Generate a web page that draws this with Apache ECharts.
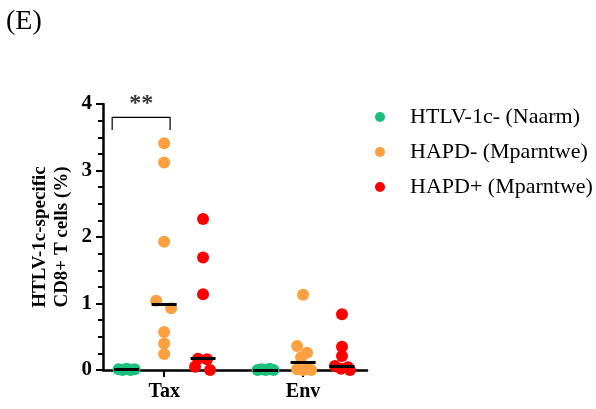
<!DOCTYPE html>
<html>
<head>
<meta charset="utf-8">
<script src="https://cdn.jsdelivr.net/npm/echarts@6/dist/echarts.min.js"></script>
<style>
  html, body { margin: 0; padding: 0; background: #fff; }
  #chart { width: 596px; height: 409px; }
</style>
</head>
<body>
<div id="chart"></div>
<script>
// categories and groups
const categories = ['Tax', 'Env']
const groupNames = ['HTLV-1c- (Naarm)', 'HAPD- (Mparntwe)', 'HAPD+ (Mparntwe)']
const yTicks = [0, 1, 2, 3, 4]

// values (% of CD8+ T cells)
const naarmTax = [0.01, 0, 0.02, 0, 0.01]
const naarmEnv = [0, 0.01, 0, 0.02, 0]
const hapdNegTax = [3.41, 3.12, 1.93, 1.04, 0.93, 0.57, 0.40, 0.24]
const hapdNegEnv = [1.13, 0.36, 0.26, 0.19, 0.03, 0.01, 0, 0]
const hapdPosTax = [2.27, 1.69, 1.14, 0.17, 0.16, 0.05, 0]
const hapdPosEnv = [0.84, 0.35, 0.21, 0.06, 0.04, 0.02, 0]

// sideways spread of overlapping dots (px)
const naarmSpread = [-8, -4, 0, 4, 8]
const hapdNegTaxSpread = [0, 0, 0, -8, 7, 0, 0, 0]
const hapdNegEnvSpread = [0, -6, 4, -2, 5, -6, 0, 8]
const hapdPosTaxSpread = [0, 0, 0, -5, 4, -8, 7]
const hapdPosEnvSpread = [0, 0, 0, -7, 6, -1, 8]

const colors = ['#1bbf7c', '#ffa040', '#ff0000']
const FONT = '"Liberation Serif", "Times New Roman", serif'
const PX = 1.9 / 264 // x data units per pixel
const groupShift = [-0.27, 0, 0.28]
const halfMedian = 12.5 * PX

function median(arr) {
  const s = arr.slice().sort((a, b) => a - b)
  const m = Math.floor(s.length / 2)
  return s.length % 2 ? s[m] : (s[m - 1] + s[m]) / 2
}

function makeSeries(gi, perCat, spreads) {
  const data = []
  const lines = []
  perCat.forEach((vals, ci) => {
    const xc = ci + 1 + groupShift[gi]
    vals.forEach((v, i) => {
      data.push([xc + spreads[ci][i] * PX, v])
    })
    const m = median(vals)
    lines.push([{ coord: [xc - halfMedian, m] }, { coord: [xc + halfMedian, m] }])
  })
  return {
    name: groupNames[gi],
    type: 'scatter',
    symbolSize: 12,
    clip: false,
    itemStyle: { color: colors[gi], opacity: 1 },
    data: data,
    markLine: {
      silent: true,
      symbol: ['none', 'none'],
      label: { show: false },
      lineStyle: { color: '#000', width: 3, type: 'solid' },
      data: lines
    },
    z: 3
  }
}

const chart = echarts.init(document.getElementById('chart'))

chart.setOption({
  animation: false,
  backgroundColor: '#fff',
  textStyle: { fontFamily: FONT },
  title: {
    text: '(E)',
    left: 1,
    top: 3,
    textStyle: { fontFamily: FONT, fontWeight: 'normal', fontSize: 28, color: '#000' }
  },
  legend: {
    data: groupNames.map((n, i) => ({ name: n, itemStyle: { color: colors[i] } })),
    orient: 'vertical',
    left: 375,
    top: 106,
    padding: 0,
    itemGap: 13,
    itemWidth: 10,
    itemHeight: 10,
    icon: 'circle',
    textStyle: { fontFamily: FONT, fontSize: 22, color: '#000', padding: [0, 0, 0, 20] }
  },
  grid: { left: 103, right: 229, top: 104, bottom: 39 },
  xAxis: {
    type: 'value',
    min: 0.56,
    max: 2.46,
    splitLine: { show: false },
    axisLine: { onZero: false, lineStyle: { color: '#000', width: 2.5 } },
    axisTick: { customValues: [1, 2], length: 7, lineStyle: { color: '#000', width: 2 } },
    axisLabel: {
      customValues: [1, 2],
      formatter: v => categories[Math.round(v) - 1],
      fontFamily: FONT,
      fontWeight: 'bold',
      fontSize: 20,
      color: '#000',
      margin: 12
    }
  },
  yAxis: {
    type: 'value',
    min: yTicks[0],
    max: yTicks[yTicks.length - 1],
    interval: 1,
    name: 'HTLV-1c-specific\nCD8+ T cells (%)',
    nameLocation: 'middle',
    nameGap: 30,
    nameTextStyle: { fontFamily: FONT, fontWeight: 'bold', fontSize: 19, lineHeight: 22, color: '#000' },
    splitLine: { show: false },
    axisLine: { show: true, onZero: false, lineStyle: { color: '#000', width: 2.5 } },
    axisTick: { length: 7, lineStyle: { color: '#000', width: 2 } },
    minorTick: { show: true, splitNumber: 4, length: 5, lineStyle: { color: '#000', width: 2 } },
    axisLabel: { fontFamily: FONT, fontWeight: 'bold', fontSize: 21, color: '#000', margin: 11 }
  },
  series: [
    makeSeries(0, [naarmTax, naarmEnv], [naarmSpread, naarmSpread]),
    makeSeries(1, [hapdNegTax, hapdNegEnv], [hapdNegTaxSpread, hapdNegEnvSpread]),
    makeSeries(2, [hapdPosTax, hapdPosEnv], [hapdPosTaxSpread, hapdPosEnvSpread]),
    {
      // significance bracket between Naarm and HAPD- on Tax
      type: 'line',
      silent: true,
      symbol: 'none',
      clip: false,
      lineStyle: { color: '#000', width: 1.2 },
      data: [[0.626, 3.61], [0.626, 3.8], [1.043, 3.8], [1.043, 3.61]],
      z: 4
    },
    {
      type: 'scatter',
      silent: true,
      symbolSize: 0,
      clip: false,
      data: [[0.835, 3.8]],
      label: {
        show: true,
        position: 'top',
        distance: 2,
        formatter: '**',
        fontFamily: FONT,
        fontWeight: 'bold',
        fontSize: 24,
        color: '#000'
      },
      z: 4
    }
  ]
})
</script>
</body>
</html>
